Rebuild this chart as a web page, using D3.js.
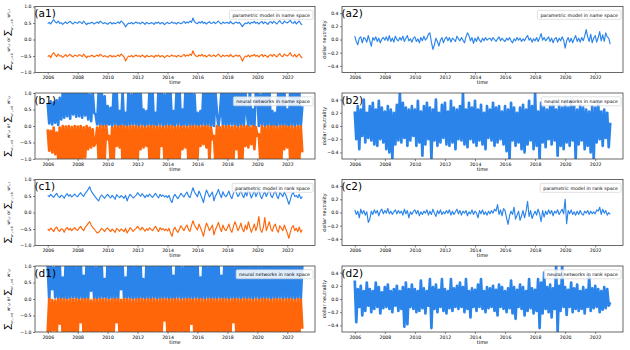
<!DOCTYPE html>
<head>
  <meta charset="utf-8">
  <script src="https://d3js.org/d3.v7.min.js"></script>
  <style>
    body { margin: 0; background: #fff; font-family: "DejaVu Sans", sans-serif; }
    .tick text { font-size: 4.6px; }
    .frame { fill: none; stroke: #444; stroke-width: 0.8; }
    .legend rect { fill: #fff; fill-opacity: 0.85; stroke: #ccc; stroke-width: 0.6; }
    .legend text { font-size: 4.7px; }
  </style>
</head>
<body>
<div id="chart"></div>
<script>
// sampled every 0.1 year from 2006.0 to 2023.0, values in percent
var a1Long = [48,52,47,55,60,53,50,56,49,51, 46,50,53,48,52,55,50,47,53,51, 49,54,52,48,56,50,45,50,48,52,
  51,47,50,53,49,55,52,48,51,49, 46,50,52,47,51,48,50,53,49,56, 52,47,38,45,50,48,52,47,50,53,
  49,51,47,53,50,46,52,49,48,51, 50,46,52,49,53,47,51,50,45,49, 52,48,50,53,49,51,47,52,50,48,
  51,55,49,53,50,56,52,65,54,50, 48,53,50,55,49,52,47,51,54,49, 50,53,48,52,56,50,47,53,49,51,
  52,48,55,50,47,51,53,49,52,46, 39,45,50,48,53,47,52,50,55,49, 52,47,51,55,48,53,50,46,52,54,
  49,55,51,47,53,57,50,48,56,52, 50,54,58,51,49,55,47,52,56,48, 45];
var a1Short = [-52,-48,-55,-45,-40,-47,-52,-44,-50,-49, -54,-50,-46,-52,-48,-45,-50,-53,-47,-49,
  -51,-46,-48,-52,-44,-50,-55,-50,-52,-48, -49,-53,-50,-47,-51,-45,-48,-52,-49,-51,
  -54,-50,-48,-53,-49,-52,-50,-47,-51,-44, -48,-53,-65,-56,-50,-52,-48,-53,-50,-47,
  -51,-49,-53,-47,-50,-54,-48,-51,-52,-49, -50,-54,-48,-51,-47,-53,-49,-50,-55,-51,
  -48,-52,-50,-47,-51,-49,-53,-48,-50,-52, -49,-45,-51,-47,-50,-44,-48,-34,-46,-50,
  -52,-47,-50,-45,-51,-48,-53,-49,-46,-51, -50,-47,-52,-48,-44,-50,-53,-47,-51,-49,
  -48,-52,-45,-50,-53,-49,-47,-51,-48,-54, -66,-56,-50,-52,-47,-53,-48,-50,-45,-51,
  -48,-53,-49,-45,-52,-47,-50,-54,-48,-46, -51,-45,-49,-53,-47,-43,-50,-52,-44,-48,
  -50,-46,-40,-49,-51,-45,-53,-48,-44,-52, -56];
var a2Net = [5,-3,-8,2,4,-5,3,1,-4,6, -2,-10,3,-1,4,-3,2,-5,1,3, -1,4,-2,6,-3,2,-4,5,0,-2,
  3,-1,5,-3,2,6,-2,1,-4,2, 4,-3,1,-5,3,-2,5,-1,2,8, 10,-4,-15,-8,2,-3,-10,-1,3,-5,
  1,4,-2,3,-4,2,0,-3,5,1, -2,3,-1,-5,4,10,6,-2,3,-6, 2,-3,4,-1,-4,2,-2,3,-1,1,
  2,-2,3,0,-3,1,4,-2,2,-1, -3,2,-1,3,-2,-5,1,-2,3,-1, 2,-3,1,-2,3,6,-1,2,-4,1,
  -2,3,-3,2,9,-1,3,-2,1,4, -3,2,-5,1,3,-4,2,-2,4,-1, -13,-2,3,-4,2,-5,1,6,-3,2,
  -4,3,-2,5,15,4,-3,8,-5,2, 6,-4,3,12,-2,7,-3,10,4,2, -7];

var b1Long = [70,8,75,5,72,10,78,3,85,20, 100,25,110,30,105,22,120,35,100,28, 115,30,100,25,108,32,120,20,95,15,
  105,40,35,5,100,0,110,2,90,0, 60,5,55,0,100,3,108,0,45,0, 102,0,40,2,110,0,95,5,120,0,
  100,0,105,3,50,0,45,4,110,0, 100,2,40,0,108,5,115,0,95,0, 110,3,102,0,45,0,100,5,115,0,
  50,0,108,2,100,0,112,0,96,3, 40,0,45,5,110,0,100,2,118,0, 105,0,100,40,0,35,100,0,112,3,
  98,0,110,5,100,0,115,0,102,2, 108,0,100,40,0,108,5,50,0,100, 112,0,95,4,110,0,100,2,115,0,
  45,0,40,0,108,3,100,0,112,0, 50,0,110,2,100,0,108,5,104,0, 60];
var b1Short = [-10,-75,-15,-80,-5,-85,-20,-100,-5,-105, 0,-110,-2,-100,0,-115,-3,-105,0,-108,
  -2,-100,0,-110,-4,-95,0,-70,-5,-65, -10,-60,-50,-5,-100,0,-110,-2,-105,0,
  -40,-30,-100,-5,-108,0,-60,-2,-65,0, -112,0,-100,-3,-108,0,-115,-2,-100,0,
  -110,-4,-70,0,-65,-5,-60,0,-105,-2, -108,0,-100,-3,-112,0,-60,-5,-105,0,
  -100,-2,-115,0,-108,-4,-100,0,-110,-3, -70,0,-65,-5,-110,0,-105,-2,-112,0,
  -100,-3,-60,0,-55,-2,-65,0,-108,-5, -40,-30,-110,0,-100,-4,-115,0,-105,-2,
  -110,0,-100,-3,-108,0,-70,-5,-112,0, -100,-2,-60,0,-65,-4,-55,0,-70,-3,
  -30,-25,-108,0,-100,-5,-110,0,-105,-2, -110,0,-100,-4,-115,0,-108,-2,-70,0,
  -65,-3,-110,0,-100,-5,-112,0,-105,-2, -80];
var b2Net = [22,-20,30,-35,25,-15,40,-25,20,-18, 30,-22,35,-28,25,-30,38,-20,28,-25, 22,-35,30,-40,25,-50,20,-28,32,-22,
  50,-25,35,-18,28,-30,25,-22,30,-15, 25,-30,38,-25,22,-45,30,-28,35,-20, 28,-50,25,-22,40,-30,20,-25,32,-18,
  35,-28,22,-30,38,-25,28,-35,25,-20, 30,-22,50,-28,25,-32,35,-20,28,-25, 38,-30,25,-22,32,-28,20,-35,30,-18,
  25,-22,35,-30,28,-25,30,-20,22,-28, 30,-38,25,-50,35,-22,28,-30,20,-25, 28,-35,32,-40,25,-28,38,-22,30,-35,
  50,-30,22,-50,35,-25,28,-32,25,-20, 30,-28,38,-22,25,-45,32,-30,28,-35, 35,-25,28,-30,40,-22,30,-50,25,-28,
  32,-22,28,-35,25,-30,22,-40,30,-50, 28,-25,35,-20,22,-30,25,-18,20,-32, 5];

var c1Long = [52,48,55,50,46,53,58,49,45,52, 50,43,52,57,49,54,47,51,56,50, 48,55,60,53,49,58,63,70,78,65,
  58,52,46,40,35,47,53,48,43,50, 55,49,44,52,47,40,54,49,45,51, 48,43,52,35,47,55,50,44,48,52,
  60,54,49,57,52,45,53,48,56,50, 46,52,58,50,44,55,49,53,47,51, 45,52,38,30,48,55,47,42,50,58,
  52,47,56,62,50,45,60,75,62,55, 48,65,55,44,30,52,68,58,47,55, 62,35,50,58,70,55,45,63,52,48,
  55,65,50,42,58,72,60,48,55,68, 52,45,62,50,75,58,44,55,67,48, 58,70,50,42,55,63,48,60,72,52,
  45,58,66,50,42,60,55,48,62,53, 40,25,38,55,60,48,52,45,55,42, 48];
var c1Short = [-50,-55,-47,-52,-58,-48,-44,-53,-57,-49, -51,-60,-50,-45,-53,-48,-55,-50,-46,-52,
  -54,-47,-42,-50,-55,-45,-40,-33,-28,-38, -45,-50,-56,-62,-60,-54,-48,-52,-58,-50,
  -47,-53,-58,-50,-55,-60,-48,-52,-57,-50, -53,-58,-48,-62,-55,-46,-51,-57,-52,-48,
  -42,-48,-53,-45,-50,-57,-49,-54,-46,-51, -55,-48,-42,-51,-58,-46,-52,-49,-55,-50,
  -56,-48,-62,-72,-52,-45,-55,-60,-50,-40, -48,-55,-44,-38,-52,-57,-40,-25,-38,-46,
  -53,-35,-46,-58,-72,-50,-32,-42,-55,-47, -38,-68,-52,-42,-30,-46,-58,-38,-50,-55,
  -46,-35,-52,-60,-43,-28,-40,-55,-46,-32, -50,-58,-38,-52,-28,-45,-60,-48,-35,-55,
  -40,-12,-52,-60,-45,-15,-55,-42,-28,-50, -57,-42,-35,-52,-60,-40,-47,-55,-38,-50,
  -62,-78,-60,-45,-40,-55,-48,-58,-44,-60, -52];
var c2Net = [4,-3,2,-8,5,-2,3,-4,1,-15, -10,2,-3,4,-1,3,-5,2,5,-2, 3,-1,6,-2,2,-3,1,4,-2,3,
  -1,2,-4,5,-2,3,-8,1,-3,2, 4,-2,3,-5,1,-3,2,-1,4,-4, 2,-3,5,-1,-6,3,-2,4,-3,1,
  -2,3,-1,4,-4,2,-3,1,5,-2, 3,-4,2,-1,3,-5,1,-2,4,-3, 2,-1,-8,3,-2,4,-3,1,-4,2,
  -2,3,-1,5,2,12,-3,4,-5,6, 3,-8,-18,-5,2,-3,8,-10,-4,2, -12,-5,3,-8,2,17,-6,3,-9,-3,
  2,-4,5,-2,-14,3,-7,2,-3,4, -2,3,-5,2,-1,4,-3,1,5,-2, 20,-17,3,-2,4,-3,1,-4,2,-3,
  3,-2,-4,2,-1,3,-3,2,-2,1, -2,4,2,8,-3,5,-1,3,-4,0, -3];

var d1Long = [100,-2,110,30,95,5,120,0,105,3, 65,0,108,2,100,0,112,5,104,0, 98,3,115,0,70,2,110,0,100,25,
  108,0,96,2,112,0,105,5,60,0, 110,3,100,0,115,2,104,0,108,30, 100,0,65,4,112,0,106,2,98,0,
  115,0,104,3,60,0,110,2,100,0, 108,4,98,0,112,2,103,0,115,3, 100,0,108,2,70,0,112,5,104,0,
  96,3,110,0,106,2,118,0,100,4, 108,0,65,2,112,0,104,3,98,0, 115,2,106,0,110,4,70,0,108,2,
  100,0,114,3,104,0,98,2,110,0, 106,3,118,0,100,2,108,0,112,5, 104,0,98,2,110,0,115,3,106,0,
  110,2,100,0,108,4,112,0,102,3, 118,0,104,2,110,0,98,3,108,0, 100];
var d1Short = [-100,0,-110,-3,-95,-5,-108,0,-75,-2, -112,0,-100,-4,-115,0,-106,-2,-110,0,
  -104,-3,-70,0,-112,-2,-100,0,-108,-5, -115,0,-102,-3,-110,0,-98,-2,-106,0,
  -108,-4,-112,0,-100,-2,-70,0,-110,-3, -100,0,-115,-2,-104,0,-108,-5,-98,0,
  -112,-2,-100,0,-110,-3,-104,0,-115,-2, -106,0,-98,-4,-112,0,-108,-2,-65,0,
  -110,-3,-104,0,-115,-2,-100,0,-108,-4, -98,0,-112,-2,-106,0,-75,-3,-110,0,
  -104,-2,-115,0,-100,-4,-108,0,-112,-2, -100,0,-106,-3,-110,0,-98,-2,-115,0,
  -108,-4,-112,0,-70,-2,-104,0,-110,-3, -115,0,-100,-2,-108,0,-112,-5,-98,0,
  -106,-3,-110,0,-104,-2,-115,0,-100,-4, -112,0,-98,-2,-110,0,-106,-3,-108,0,
  -104,-2,-115,0,-100,-4,-110,0,-112,-2, -90];
var d2Net = [28,-35,15,-12,20,-25,12,-18,25,-10, 15,-20,12,-15,25,-12,18,-22,10,-14, 18,-12,22,-15,12,-20,15,-10,20,-18,
  12,-15,18,-42,25,-38,15,-12,22,-15, 15,-20,12,-18,28,-14,16,-22,12,-10, 30,-44,18,-15,22,-20,14,-12,30,-18,
  15,-22,12,-14,30,-18,16,-12,20,-15, 25,-12,18,-20,30,-15,12,-28,16,-12, 14,-18,22,-12,30,-15,12,-20,18,-14,
  16,-12,20,-18,14,-25,22,-12,18,-15, 12,-20,16,-14,28,-22,18,-30,14,-12, 22,-15,18,-25,12,-18,30,-14,16,-22,
  14,-18,30,-44,25,-22,40,-15,18,-20, 22,-28,16,-15,50,-50,20,-18,50,-12, 18,-24,14,-12,25,-20,16,-15,22,-18,
  12,-15,18,-22,14,-12,35,-18,16,-14, 20,-12,15,-20,12,-16,18,-14,15,-10, -5];

var years = d3.range(a1Long.length).map(function(i) { return 2006 + i / 10; });
var yearTicks = [2006, 2008, 2010, 2012, 2014, 2016, 2018, 2020, 2022];
var weightTicks = [-1, -0.5, 0, 0.5, 1];
var neutralTicks = [-0.4, -0.2, 0, 0.2, 0.4];

var blue = "#2b84ea", orange = "#ff660a";

// dense: neural-network panels, drawn with a heavier stroke so the daily noise reads as a band
var panels = [
  {name: "(a1)", row: 0, col: 0, dense: false, legend: "parametric model in name space", series: [[a1Long, blue], [a1Short, orange]]},
  {name: "(a2)", row: 0, col: 1, dense: false, legend: "parametric model in name space", series: [[a2Net, blue]]},
  {name: "(b1)", row: 1, col: 0, dense: true, legend: "neural networks in name space", series: [[b1Long, blue], [b1Short, orange]]},
  {name: "(b2)", row: 1, col: 1, dense: true, legend: "neural networks in name space", series: [[b2Net, blue]]},
  {name: "(c1)", row: 2, col: 0, dense: false, legend: "parametric model in rank space", series: [[c1Long, blue], [c1Short, orange]]},
  {name: "(c2)", row: 2, col: 1, dense: false, legend: "parametric model in rank space", series: [[c2Net, blue]]},
  {name: "(d1)", row: 3, col: 0, dense: true, legend: "neural networks in rank space", series: [[d1Long, blue], [d1Short, orange]]},
  {name: "(d2)", row: 3, col: 1, dense: true, legend: "neural networks in rank space", series: [[d2Net, blue]]}
];

var svg = d3.select("#chart").append("svg")
  .attr("width", 630)
  .attr("height", 350);

var colX = [35, 342], colW = [280, 281];
var rowH = 66;

panels.forEach(function(p, k) {
  var left = colX[p.col], top = 6.5 + p.row * 86.5, w = colW[p.col];
  var g = svg.append("g").attr("transform", "translate(" + left + "," + top + ")");

  var x = d3.scaleLinear().domain([2005.15, 2023.85]).range([0, w]);
  var y = p.col == 0
    ? d3.scaleLinear().domain([-1, 1]).range([rowH, 0])
    : d3.scaleLinear().domain([-0.5, 0.5]).range([rowH, 0]);

  g.append("clipPath").attr("id", "clip" + k)
    .append("rect").attr("width", w).attr("height", rowH);

  var line = d3.line()
    .x(function(d, i) { return x(years[i]); })
    .y(function(d) { return y(d / 100); });

  var plot = g.append("g").attr("clip-path", "url(#clip" + k + ")");
  p.series.forEach(function(s) {
    plot.append("path")
      .datum(s[0])
      .attr("d", line)
      .attr("fill", "none")
      .attr("stroke", s[1])
      .attr("stroke-width", p.dense ? 2.7 : 1.15)
      .attr("stroke-linejoin", "round");
  });

  var xAxis = g.append("g")
    .attr("transform", "translate(0," + rowH + ")")
    .call(d3.axisBottom(x).tickValues(yearTicks).tickFormat(d3.format("d")).tickSize(2).tickPadding(1.5));
  var yAxis = g.append("g")
    .call(d3.axisLeft(y)
      .tickValues(p.col == 0 ? weightTicks : neutralTicks)
      .tickFormat(function(d) { return d3.format(".1f")(d).replace("-", "\u2212"); })
      .tickSize(2).tickPadding(1.5));
  [xAxis, yAxis].forEach(function(a) {
    a.select(".domain").remove();
    a.selectAll("line").attr("stroke", "#333").attr("stroke-width", 0.6);
    a.selectAll("text").attr("font-family", "DejaVu Sans");
  });

  g.append("rect").attr("class", "frame").attr("width", w).attr("height", rowH);

  g.append("text")
    .attr("x", -0.5).attr("y", 10.5)
    .attr("font-size", 10.5)
    .text(p.name);

  g.append("text")
    .attr("x", w / 2).attr("y", rowH + 11.5)
    .attr("text-anchor", "middle")
    .attr("font-size", 5)
    .text("time");

  var leg = g.append("g").attr("class", "legend");
  var lt = leg.append("text").attr("y", 10.4).text(p.legend);
  var tw = lt.node().getComputedTextLength();
  lt.attr("x", w - 5 - tw);
  leg.insert("rect", "text")
    .attr("x", w - 8 - tw).attr("y", 3.8)
    .attr("width", tw + 6).attr("height", 9)
    .attr("rx", 1.2);

  if (p.col == 1) {
    g.append("text")
      .attr("transform", "translate(-16," + rowH / 2 + ") rotate(-90)")
      .attr("text-anchor", "middle")
      .attr("font-size", 4.8)
      .text("dollar neutrality");
  } else {
    // sum of short weights "or" sum of long weights, set as rotated math text
    var lab = g.append("text")
      .attr("transform", "translate(-25," + rowH / 2 + ") rotate(-90)")
      .attr("text-anchor", "middle")
      .attr("font-size", 4.4);
    lab.append("tspan").attr("font-size", 8.5).text("\u2211");
    lab.append("tspan").attr("dy", 2.5).attr("font-size", 3.2).text("w\u1D9C\u1D62,\u209C<0");
    lab.append("tspan").attr("dy", -2.5).text(" w\u1D9C\u1D62,\u209C or ");
    lab.append("tspan").attr("font-size", 8.5).text("\u2211");
    lab.append("tspan").attr("dy", 2.5).attr("font-size", 3.2).text("w\u1D9C\u1D62,\u209C>0");
    lab.append("tspan").attr("dy", -2.5).text(" w\u1D9C\u1D62,\u209C");
  }
});
</script>
</body>
